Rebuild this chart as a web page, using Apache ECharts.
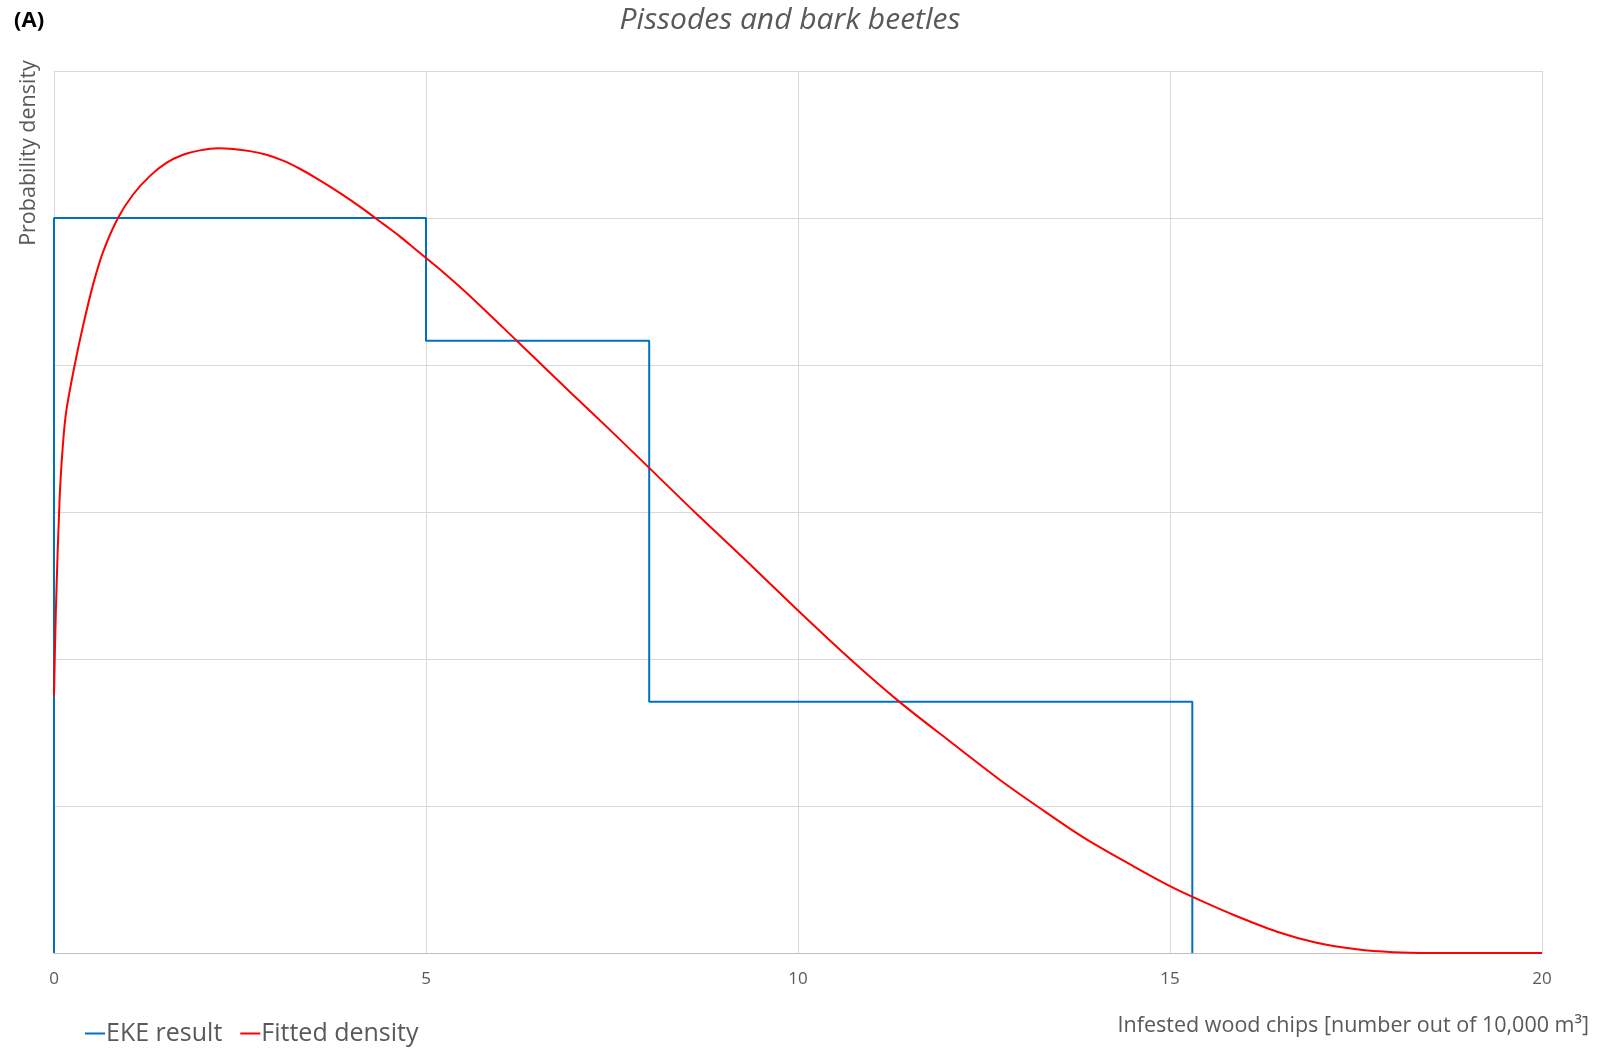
<!DOCTYPE html>
<html>
<head>
<meta charset="utf-8">
<script src="https://cdn.jsdelivr.net/npm/echarts@6/dist/echarts.min.js"></script>
<style>
html,body{margin:0;padding:0;background:#fff;}
#chart{width:1601px;height:1050px;}
</style>
</head>
<body>
<div id="chart"></div>
<script>
// X ticks
const xTicks = [0, 5, 10, 15, 20];
// EKE result (step histogram): x breakpoints and heights
const ekeX = [0, 0, 5, 5, 8, 8, 15.3, 15.3];
const ekeY = [0, 0.1, 0.1, 0.0833, 0.0833, 0.0342, 0.0342, 0];
// Fitted density
const fitX = [0, 0.025, 0.075, 0.12, 0.166, 0.278, 0.39, 0.524, 0.66, 0.86, 1.063, 1.287, 1.511, 1.735, 1.959, 2.205, 2.407, 2.631, 2.856, 3.079, 3.304, 3.528, 3.752, 3.976, 4.2, 4.424, 4.648, 4.873, 5.2, 5.6, 6.22, 6.96, 7.5, 8.0, 8.61, 9.28, 10.0, 10.7, 11.36, 12.04, 12.72, 13.21, 13.84, 14.51, 15.0, 15.29, 15.85, 16.44, 16.97, 17.51, 18.0, 18.5, 19.25, 20];
const fitY = [0.035, 0.0466, 0.0617, 0.0692, 0.0738, 0.08, 0.0853, 0.0909, 0.0954, 0.1, 0.1032, 0.1057, 0.1075, 0.1086, 0.1092, 0.1095, 0.1094, 0.1091, 0.1086, 0.1078, 0.1067, 0.1054, 0.104, 0.1025, 0.1009, 0.0992, 0.0975, 0.0956, 0.0929, 0.0893, 0.0833, 0.0761, 0.0709, 0.066, 0.06, 0.0536, 0.0466, 0.04, 0.0342, 0.0288, 0.0235, 0.02, 0.0157, 0.0118, 0.0091, 0.0077, 0.0052, 0.0029, 0.0014, 0.0005, 0.0001, 0, 0, 0];

const ekeData = ekeX.map((x, i) => [x, ekeY[i]]);
const fitData = fitX.map((x, i) => [x, fitY[i]]);

const chart = echarts.init(document.getElementById('chart'));
const grey = '#595959';
chart.setOption({
  animation: false,
  backgroundColor: '#ffffff',
  grid: {left: 54, right: 59, top: 71, bottom: 97, containLabel: false},
  xAxis: {
    type: 'value', min: xTicks[0], max: xTicks[xTicks.length - 1], interval: 5,
    axisLine: {show: true, lineStyle: {color: '#bfbfbf', width: 1}},
    axisTick: {show: false},
    axisLabel: {color: grey, fontSize: 17, fontFamily: 'Open Sans', margin: 18},
    splitLine: {show: true, lineStyle: {color: '#d9d9d9', width: 1}}
  },
  yAxis: {
    type: 'value', min: 0, max: 0.12, interval: 0.02,
    axisLine: {show: false}, axisTick: {show: false},
    axisLabel: {show: false},
    splitLine: {show: true, lineStyle: {color: '#d9d9d9', width: 1}}
  },
  legend: {
    left: 80, top: 1016, icon: 'rect', itemWidth: 20, itemHeight: 2, itemGap: 18,
    textStyle: {color: grey, fontSize: 25, fontFamily: 'Open Sans', padding: [0, 0, 0, -4]},
    data: ['EKE result', 'Fitted density']
  },
  graphic: [
    {type: 'text', left: 14, top: 10, style: {text: '(A)', font: 'bold 22px "Open Sans"', fill: '#000'}},
    {type: 'text', x: 790, y: 20, style: {text: 'Pissodes and bark beetles', font: 'italic 30px "Open Sans"', fill: grey, align: 'center', verticalAlign: 'middle'}},
    {type: 'text', x: 29, y: 153, rotation: Math.PI / 2, style: {text: 'Probability density', font: '21.5px "Open Sans"', fill: grey, align: 'center', verticalAlign: 'middle'}},
    {type: 'text', x: 1589, y: 1026, style: {text: 'Infested wood chips [number out of 10,000 m³]', font: '21.5px "Open Sans"', fill: grey, align: 'right', verticalAlign: 'middle'}}
  ],
  series: [
    {name: 'EKE result', type: 'line', data: ekeData, symbol: 'none', color: '#0070C0', lineStyle: {width: 2, color: '#0070C0'}, z: 3},
    {name: 'Fitted density', type: 'line', data: fitData, symbol: 'none', smooth: 0.3, color: '#FF0000', lineStyle: {width: 2, color: '#FF0000'}, z: 4}
  ]
});
</script>
</body>
</html>
